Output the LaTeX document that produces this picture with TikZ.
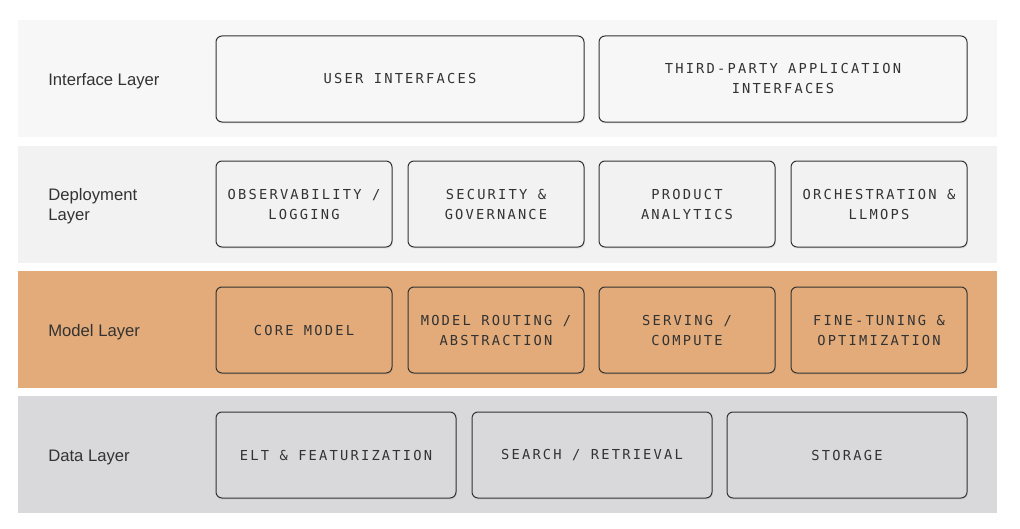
\documentclass[tikz,border=0pt]{standalone}
\usepackage{fontspec}
\setmainfont{Liberation Sans}
\newfontfamily\boxfont[LetterSpace=16]{DejaVu Sans Mono}
\usetikzlibrary{shadows}

\definecolor{ifaceband}{HTML}{F7F7F7}
\definecolor{deployband}{HTML}{F2F2F2}
\definecolor{modelband}{HTML}{E3AB7A}
\definecolor{databand}{HTML}{D9D9DB}
\definecolor{inkgrey}{HTML}{333333}

\tikzset{
  layerlbl/.style={anchor=west, align=left, text=inkgrey, inner sep=0pt,
    font=\fontsize{12.5}{15}\selectfont},
  blk/.style={draw=inkgrey, line width=0.75pt, rounded corners=4.5pt,
    minimum height=64.5pt, align=center, text=inkgrey, inner sep=0pt,
    font=\boxfont\fontsize{10.3}{15}\selectfont,
    drop shadow={opacity=0.12, shadow xshift=0.6pt, shadow yshift=-1.2pt}},
  smallblk/.style={blk, minimum width=132pt},
  wideblk/.style={blk, minimum width=276pt},
  datablk/.style={blk, minimum width=180pt}
}

\begin{document}
\begin{tikzpicture}[x=0.75pt,y=0.75pt,yscale=-1,xscale=1]
\useasboundingbox (0,0) rectangle (1020,528);

%Bands
\fill[ifaceband] (18,20) rectangle (997,137);
\fill[deployband] (18,146) rectangle (997,263);
\fill[modelband] (18,271) rectangle (997,388);
\fill[databand] (18,396) rectangle (997,513);

%Layer names
\node[layerlbl] (lblIface) at (48,81) {Interface Layer};
\node[layerlbl] (lblDeploy) at (48,206) {Deployment\\Layer};
\node[layerlbl] (lblModel) at (48,332) {Model Layer};
\node[layerlbl] (lblData) at (48,457) {Data Layer};

%Interface layer
\node[wideblk, fill=ifaceband] (userIf) at (400,79) {USER INTERFACES};
\node[wideblk, fill=ifaceband] (thirdIf) at (783,79) {THIRD-PARTY APPLICATION\\INTERFACES};

%Deployment layer
\node[smallblk, fill=deployband] (observ) at (304,204) {OBSERVABILITY /\\LOGGING};
\node[smallblk, fill=deployband] (secur) at (496,204) {SECURITY \&\\GOVERNANCE};
\node[smallblk, fill=deployband] (analyt) at (687,204) {PRODUCT\\ANALYTICS};
\node[smallblk, fill=deployband] (orches) at (879,204) {ORCHESTRATION \&\\LLMOPS};

%Model layer
\node[smallblk, fill=modelband] (coreMdl) at (304,330) {CORE MODEL};
\node[smallblk, fill=modelband] (routing) at (496,330) {MODEL ROUTING /\\ABSTRACTION};
\node[smallblk, fill=modelband] (serving) at (687,330) {SERVING /\\COMPUTE};
\node[smallblk, fill=modelband] (tuning) at (879,330) {FINE-TUNING \&\\OPTIMIZATION};

%Data layer
\node[datablk, fill=databand] (elt) at (336,455) {ELT \& FEATURIZATION};
\node[datablk, fill=databand] (search) at (592,455) {SEARCH / RETRIEVAL};
\node[datablk, fill=databand] (storage) at (847,455) {STORAGE};

\end{tikzpicture}
\end{document}
